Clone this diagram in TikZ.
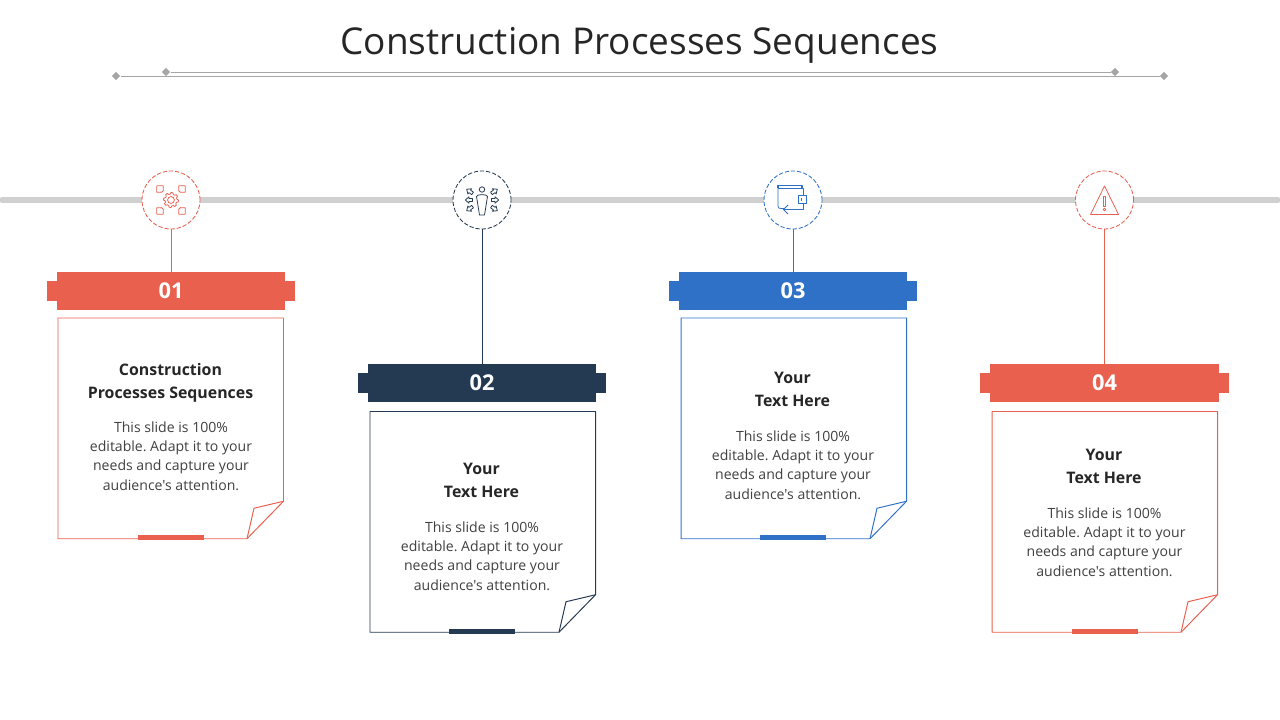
\documentclass[tikz,border=0pt]{standalone}
\usepackage{fontspec}
\setmainfont{Open Sans}[Ligatures=TeXOff]
\usetikzlibrary{shapes.geometric}

\definecolor{redbar}{HTML}{E9604F}
\definecolor{navybar}{HTML}{243A53}
\definecolor{bluebar}{HTML}{3071C8}
\definecolor{railgray}{HTML}{D0D0D0}
\definecolor{rulegray}{HTML}{A6A6A6}

\newcommand{\bodytext}{This slide is 100\%\\editable. Adapt it to your\\needs and capture your\\audience's attention.}

\tikzset{%
  every node/.style={
    inner sep=0pt
  },
  titletext/.style={font=\fontsize{26.3}{32}\selectfont, text=black!85},
  ruleline/.style={draw=rulegray, line width=0.7pt},
  ruleend/.style={diamond, fill=rulegray, minimum size=6pt},
  rail/.style={draw=railgray, line width=3.6pt, line cap=round},
  badge/.style={circle, draw=#1, fill=white, dashed, dash pattern=on 3pt off 1.4pt, line width=0.6pt, minimum size=1.45cm},
  tag/.style={rectangle, fill=#1, minimum width=5.7cm, minimum height=0.95cm, text=white, font=\fontsize{15.5}{18}\selectfont\bfseries},
  tagear/.style={rectangle, fill=#1, minimum width=6.2cm, minimum height=0.5cm},
  cardtitle/.style={align=center, text=black!85, font=\fontsize{11.3}{16.3}\selectfont\bfseries},
  cardbody/.style={align=center, text=black!75, font=\frenchspacing\fontsize{10}{13.7}\selectfont},
  cardfoot/.style={rectangle, fill=#1, minimum width=1.65cm, minimum height=0.125cm},
  iconline/.style={draw=#1, line width=0.55pt, line join=round}
}

\begin{document}
\begin{tikzpicture}[x=0.025cm,y=-0.025cm]
  \useasboundingbox (0,0) rectangle (1280,720);

  % heading
  \node[titletext] (heading) at (639.5,45) {Construction Processes Sequences};
  \node[ruleend] (ruleA) at (166,72) {};
  \node[ruleend] (ruleB) at (1115,72) {};
  \node[ruleend] (ruleC) at (116,76) {};
  \node[ruleend] (ruleD) at (1164,76) {};
  \draw[ruleline] (ruleA) -- (ruleB);
  \draw[ruleline] (ruleC) -- (ruleD);

  % rail
  \coordinate (railL) at (2,200);
  \coordinate (railR) at (1278,200);
  \draw[rail] (railL) -- (railR);

  % columns
  \foreach \n/\cx/\kx/\tagy/\ct/\ty/\by/\col/\head in {%
    1/171/171/291/318/383/456/redbar/{Construction\\Processes Sequences},
    2/482/483/383/411.5/480/556/navybar/{Your\\Text Here},
    3/793/794/291/318/389/465/bluebar/{Your\\Text Here},
    4/1104.5/1105/383/411.5/466/542/redbar/{Your\\Text Here}} {
    \pgfmathsetmacro{\cb}{\ct+220.75}
    \node[badge=\col] (badge\n) at (\cx,200) {};
    \node[tagear=\col] (ear\n) at (\cx,\tagy) {};
    \node[tag=\col] (tag\n) at (\cx,\tagy) {0\n};
    \draw[draw=\col, line width=0.7pt] (badge\n.south) -- (tag\n.north);
    \draw[draw=\col, line width=0.7pt, line join=round]
      (\kx-113,\ct) -- (\kx+112.5,\ct) -- (\kx+112.5,\cb-37.5) -- (\kx+76,\cb) -- (\kx-113,\cb) -- cycle;
    \draw[draw=\col, line width=0.7pt, line join=round]
      (\kx+112.5,\cb-37.5) -- (\kx+83,\cb-30.5) -- (\kx+76,\cb);
    \node[cardfoot=\col] (foot\n) at (\cx,\cb-1) {};
    \node[cardtitle] (head\n) at (\cx-0.5,\ty) {\head};
    \node[cardbody] (body\n) at (\cx,\by) {\bodytext};
  }

  % icon 1
  \begin{scope}[shift={(171,200)},iconline=redbar]
    \draw (0:7.5) -- (15:7.5) -- (22:6) -- (38:6) -- (45:7.5) -- (60:7.5) -- (67:6) -- (83:6) -- (90:7.5)
      -- (105:7.5) -- (112:6) -- (128:6) -- (135:7.5) -- (150:7.5) -- (157:6) -- (173:6) -- (180:7.5)
      -- (195:7.5) -- (202:6) -- (218:6) -- (225:7.5) -- (240:7.5) -- (247:6) -- (263:6) -- (270:7.5)
      -- (285:7.5) -- (292:6) -- (308:6) -- (315:7.5) -- (330:7.5) -- (337:6) -- (353:6) -- cycle;
    \draw (0,0) circle (3.4);
    \foreach \r in {45,135,225,315} {
      \begin{scope}[rotate=\r]
        \draw (12,-1.2) -- (15.5,-4.6) -- (20,0) -- (15.5,4.6) -- (12,1.2) -- cycle;
      \end{scope}
    }
  \end{scope}

  % icon 2
  \begin{scope}[shift={(482,200)},iconline=navybar]
    \draw (0,-10.5) circle (2.7);
    \draw (-5.5,-3.5) .. controls (-5.5,-6) and (5.5,-6) .. (5.5,-3.5) -- (2.5,15) -- (-2.5,15) -- cycle;
    \foreach \r/\d in {0/13,35/15,-35/15,180/13,145/15,215/15} {
      \begin{scope}[rotate=\r]
        \draw (\d-3.5,-1.5) -- (\d,-1.5) -- (\d,-3.2) -- (\d+3.7,0) -- (\d,3.2) -- (\d,1.5) -- (\d-3.5,1.5) -- cycle;
      \end{scope}
    }
  \end{scope}

  % icon 3
  \begin{scope}[shift={(793,200)},iconline=bluebar]
    \draw[line width=0.9pt] (-15,-12) -- (-15,-14.5) -- (9,-14.5) -- (9,-12);
    \draw (-15,-12) -- (-15,6) .. controls (-15,8) and (-14,8.5) .. (-12,8.5) -- (-9,8.5);
    \draw (-15,-11.5) -- (10.5,-11.5) -- (10.5,-5);
    \draw (5.5,-5) rectangle (13.8,3.5);
    \draw[line width=0.9pt] (8.5,-2) -- (8.5,1);
    \draw (10.5,3.5) -- (10.5,9.5) -- (-9.5,9.5);
    \draw (-5,5) -- (-9.5,9.5) -- (-5,14);
  \end{scope}

  % icon 4
  \begin{scope}[shift={(1104.5,200)},iconline=redbar]
    \draw (0,-14) -- (14,14.5) -- (-14,14.5) -- cycle;
    \draw (-1,-4) rectangle (1,6.5);
    \draw (0,9.5) circle (1.4);
  \end{scope}
\end{tikzpicture}
\end{document}
